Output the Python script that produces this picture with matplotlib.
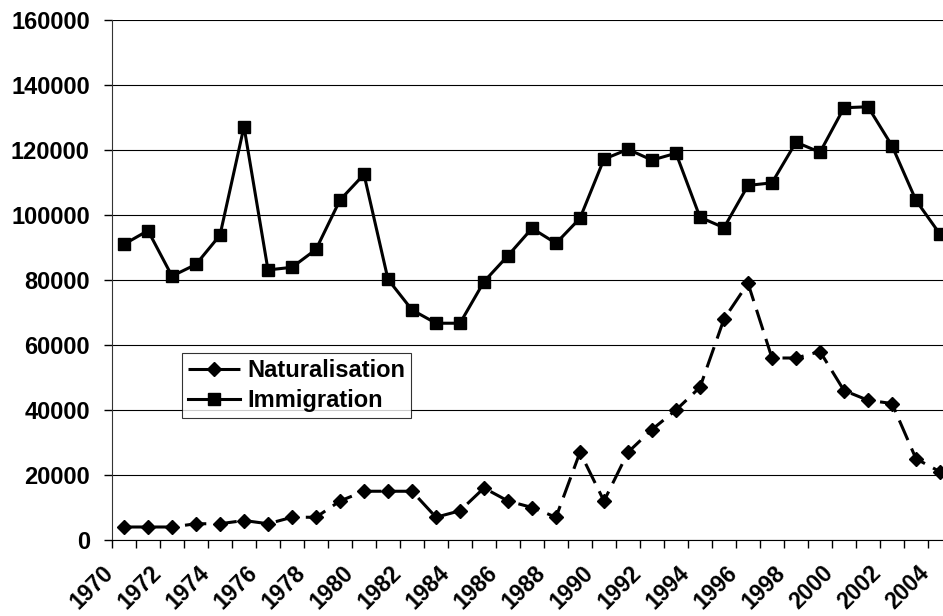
import matplotlib.pyplot as plt
from matplotlib.transforms import ScaledTranslation

years = list(range(1970, 2005))
naturalisation = [4000, 4000, 4000, 5000, 5000, 6000, 5000, 7000, 7000, 12000,
                  15000, 15000, 15000, 7000, 9000, 16000, 12000, 10000, 7000, 27000,
                  12000, 27000, 34000, 40000, 47000, 68000, 79000, 56000, 56000, 58000,
                  46000, 43000, 42000, 25000, 21000]
immigration = [91000, 95200, 81200, 84800, 93800, 127200, 83100, 83900, 89400, 104600,
               112500, 80200, 70800, 66700, 66700, 79500, 87500, 95900, 91300, 99000,
               117200, 120200, 116900, 119000, 99300, 96100, 109100, 109900, 122400, 119300,
               133000, 133300, 121300, 104500, 94100]
yticks = [0, 20000, 40000, 60000, 80000, 100000, 120000, 140000, 160000]

plt.rcParams['font.family'] = ['Liberation Sans', 'DejaVu Sans']
plt.rcParams['font.weight'] = 'bold'

fig = plt.figure(figsize=(9.43, 6.16), dpi=100)
# plot area runs past the right edge of the picture, as in the reference
ax = fig.add_axes([112 / 943, 76 / 616, 840 / 943, 520 / 616])

x = list(range(len(years)))
ax.plot(x, naturalisation, color='black', lw=2.2, dashes=(7, 3),
        marker='D', markersize=7.5, label='Naturalisation')
ax.plot(x, immigration, color='black', lw=2.2,
        marker='s', markersize=9, label='Immigration')

ax.set_xlim(-0.5, len(years) - 0.5)
ax.set_ylim(0, 160000)
ax.set_yticks(yticks)
ax.set_yticklabels([str(v) for v in yticks])
ax.yaxis.grid(True, color='black', lw=0.8)
ax.set_axisbelow(True)

# category boundary tick marks
ax.set_xticks([i - 0.5 for i in range(len(years) + 1)], minor=True)
ax.tick_params(axis='x', which='minor', direction='out', length=6, width=1, color='black')
even = [i for i, y in enumerate(years) if y % 2 == 0]
ax.set_xticks(even)
ax.set_xticklabels([str(years[i]) for i in even])
ax.tick_params(axis='x', which='major', length=0, pad=21.5, labelsize=16.5)
shift = ScaledTranslation(-14 / 100, 0, fig.dpi_scale_trans)
for lab in ax.get_xticklabels():
    lab.set_rotation(45)
    lab.set_ha('right')
    lab.set_va('center')
    lab.set_rotation_mode('anchor')
    lab.set_transform(lab.get_transform() + shift)

ax.tick_params(axis='y', direction='out', length=6, width=1, pad=10, labelsize=17)

for s in ['top', 'right']:
    ax.spines[s].set_visible(False)
ax.spines['left'].set_color('#333333')
ax.spines['bottom'].set_color('black')

leg = ax.legend(loc='upper left', bbox_to_anchor=(70 / 840, 187 / 520), borderaxespad=0,
                fontsize=17, frameon=True, fancybox=False, edgecolor='black',
                handlelength=2.2, handletextpad=0.3, borderpad=0.25, labelspacing=0.3)
leg.get_frame().set_linewidth(0.8)

fig.savefig('out.png', dpi=100)
